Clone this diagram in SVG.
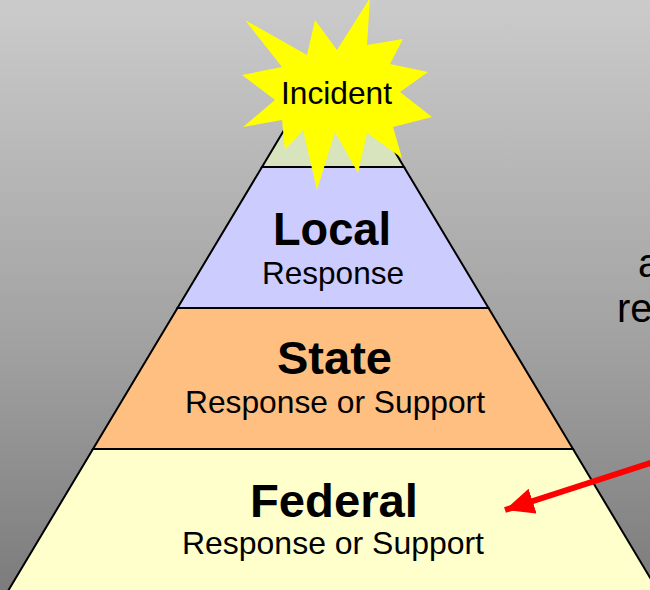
<svg xmlns="http://www.w3.org/2000/svg" width="650" height="590" viewBox="0 0 650 590">
<defs>
<linearGradient id="bg" x1="0" y1="0" x2="0" y2="1">
<stop offset="0" stop-color="#cbcbcb"/>
<stop offset="0.6" stop-color="#a0a0a0"/>
<stop offset="1" stop-color="#7c7c7c"/>
</linearGradient>
<marker id="arrow" markerUnits="userSpaceOnUse" markerWidth="32" markerHeight="28" refX="29" refY="13" orient="auto">
<polygon points="0,0 29,13 0,26" fill="#ff0000"/>
</marker>
<style>
.tier { stroke: #000; stroke-width: 2; stroke-linejoin: miter; }
.t { font-family: "Liberation Sans", Arial, sans-serif; text-anchor: middle; fill: #000; }
.big { font-size: 46px; font-weight: bold; }
.small { font-size: 30.5px; }
.side { font-family: "Liberation Sans", Arial, sans-serif; font-size: 40px; fill: #000; }
</style>
</defs>
<rect x="0" y="0" width="650" height="590" fill="url(#bg)"/>
<text class="side" x="638" y="277">a</text>
<text class="side" x="617" y="322">re</text>
<g id="top">
<polygon class="tier" points="305,95 361,95 404,167 262,167" fill="#d7e4bd"/>
</g>
<g id="local">
<polygon class="tier" points="262,167 404,167 488.5,308 177.5,308" fill="#ccccff"/>
<text class="t big" x="332" y="245" textLength="118" lengthAdjust="spacingAndGlyphs">Local</text>
<text class="t small" x="333" y="284" textLength="142" lengthAdjust="spacingAndGlyphs">Response</text>
</g>
<g id="state">
<polygon class="tier" points="177.5,308 488.5,308 573,449 93,449" fill="#ffbf80"/>
<text class="t big" x="334.5" y="374" textLength="115" lengthAdjust="spacingAndGlyphs">State</text>
<text class="t small" x="335" y="413" textLength="300" lengthAdjust="spacingAndGlyphs">Response or Support</text>
</g>
<g id="federal">
<polygon class="tier" points="93,449 573,449 658,591 8,591" fill="#ffffcc"/>
<text class="t big" x="334" y="517" textLength="168" lengthAdjust="spacingAndGlyphs">Federal</text>
<text class="t small" x="333" y="554" textLength="302" lengthAdjust="spacingAndGlyphs">Response or Support</text>
</g>
<g id="incident">
<polygon fill="#ffff00" points="245,20 307,55 315,20 337,50 370,-2 367,45 403,39 390,64 428,72 400,92 432,117 393,127 402,158 367,133 358,173 335,132 317,190 303,130 285,150 282,120 243,127 275,100 242,75 282,67"/>
<text class="t small" x="336.5" y="104" textLength="111" lengthAdjust="spacingAndGlyphs">Incident</text>
</g>
<g id="connectors">
<line x1="700" y1="447" x2="505" y2="510" stroke="#ff0000" stroke-width="6" marker-end="url(#arrow)"/>
</g>
</svg>
